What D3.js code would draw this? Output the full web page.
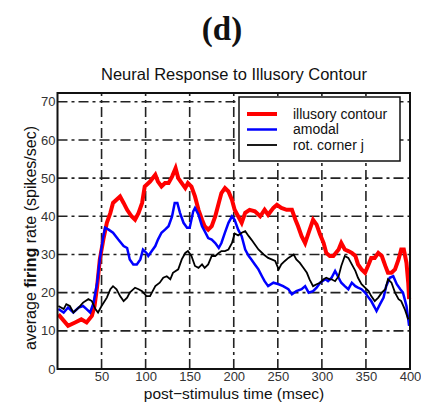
<!DOCTYPE html>
<html>
<head>
<meta charset="utf-8">
<script src="https://cdn.jsdelivr.net/npm/d3@7"></script>
<style>
  body { margin: 0; background: #fff; }
  text { font-family: "Liberation Sans", Arial, sans-serif; fill: #111; }
</style>
</head>
<body>
<svg id="chart"></svg>
<script>
// values: [time (msec), rate (spikes/sec)]
const illusory = [[1,14.3],[12,11.3],[20,12.2],[27,13],[33,12.2],[39,13.9],[42,16.5],[45,21.7],[48,28.7],[52,33.9],[56,38.3],[60,40.9],[63,43.5],[71,45.2],[75,43.5],[79,41.7],[84,40],[88,39.1],[92,40.9],[96,43.5],[99,47.8],[105,49.1],[111,50.9],[114,49.1],[118,47.8],[122,48.7],[126,48.7],[130,50.4],[134,52.6],[137,50],[141,48.7],[145,47.4],[148,48.7],[152,47.8],[156,45.2],[160,41.7],[164,39.1],[167,37.4],[171,36.5],[175,37.4],[179,40],[183,43.5],[186,46.1],[190,47.4],[194,46.5],[198,44.3],[201,41.7],[205,40],[209,38.3],[213,40.9],[218,41.7],[224,41.3],[230,40],[235,41.7],[239,40.4],[245,42.2],[249,43],[254,42.2],[260,41.7],[266,41.7],[270,39.1],[273,37.4],[277,34.8],[281,33],[285,35.7],[290,39.1],[294,37.8],[298,35.2],[302,33],[305,30.4],[309,29.6],[313,29.6],[319,31.3],[322,33],[326,31.3],[330,30.9],[334,30.4],[338,29.6],[341,27.4],[345,26.1],[349,25.2],[353,27.4],[356,29.1],[360,29.1],[364,30.4],[368,29.6],[372,27],[375,25.2],[379,25.2],[383,26.1],[387,28.7],[390,31.3],[393,31.3],[396,27.8],[398,22.6],[399,18.3]];
const amodal = [[1,15.7],[7,14.8],[12,16.1],[18,14.8],[24,16.1],[29,16.5],[33,15.7],[37,14.8],[41,17.4],[45,22.6],[48,28.7],[52,34.8],[54,37],[58,36.5],[63,35.7],[69,33.9],[75,32.2],[79,31.7],[82,28.7],[86,27.4],[90,27.4],[94,28.7],[97,31.3],[101,30.4],[103,29.6],[107,30.9],[111,32.2],[114,33.9],[118,35.7],[122,36.5],[126,37.4],[130,40],[133,43.5],[136,43.5],[139,40.9],[143,38.3],[147,37],[150,37],[154,41.3],[156,42.2],[160,40.4],[164,37.4],[167,36.1],[171,34.3],[175,33.9],[179,33],[183,31.7],[186,33],[190,35.7],[194,38.3],[198,40],[201,39.1],[205,36.5],[209,34.8],[213,31.3],[217,29.6],[220,28.7],[224,27.4],[228,26.1],[232,24.3],[235,23],[239,21.7],[245,22.6],[251,22.2],[256,21.7],[262,20.9],[266,19.6],[271,20.4],[277,20.9],[281,21.7],[285,20],[290,20.4],[294,21.3],[298,22.6],[304,23.5],[307,23],[311,23.9],[315,25.7],[319,23.9],[322,22.6],[326,21.7],[330,20.9],[334,22.6],[338,21.7],[341,21.3],[345,20.9],[349,20],[353,18.7],[356,17.8],[360,16.1],[362,15.2],[366,17],[370,18.7],[373,21.7],[377,23.9],[381,24.3],[385,22.2],[389,20.9],[392,20],[396,16.5],[399,11.3]];
const rotCorner = [[1,16.5],[7,15.7],[10,17],[14,16.5],[18,14.8],[24,16.1],[29,17.4],[35,18.3],[39,17.8],[43,15.7],[46,14.8],[50,16.5],[56,18.7],[60,20.9],[63,21.7],[67,20.9],[71,19.1],[75,17.8],[79,18.7],[82,20],[88,21.3],[92,20.9],[96,20.4],[101,19.1],[105,19.1],[111,21.7],[116,22.6],[120,23.9],[124,24.3],[128,23.5],[131,25.2],[137,26.1],[141,28.7],[145,30.4],[148,30.9],[152,29.6],[156,27],[160,26.5],[164,27.4],[167,26.5],[171,27.4],[175,29.6],[179,29.6],[183,30.4],[186,30.9],[190,30.9],[194,31.3],[198,33],[201,35.5],[205,35],[209,35.7],[213,36.1],[217,34.8],[220,33.9],[224,32.6],[228,31.3],[234,30],[239,29.1],[243,28.7],[247,28.3],[251,26.1],[254,27.4],[258,28.3],[262,29.1],[268,30],[271,28.7],[275,27.8],[279,26.5],[283,25.2],[286,23.5],[290,21.7],[294,22.2],[298,22.6],[302,23.5],[305,23.9],[309,23.5],[311,23.5],[315,23],[319,24.3],[322,27],[326,29.6],[330,29.1],[334,27.4],[338,25.7],[341,23.9],[345,22.2],[349,21.3],[353,20.4],[356,19.1],[360,17.8],[364,18.7],[368,20],[372,20.9],[375,23.5],[379,22.6],[383,20],[387,18.3],[390,17.8],[394,15.7],[398,13]];

const xTicks = [50, 100, 150, 200, 250, 300, 350, 400];
const yTicks = [0, 10, 20, 30, 40, 50, 60, 70];
const seriesNames = ["illusory contour", "amodal", "rot. corner j"];
const seriesColors = ["#ff0000", "#0000ff", "#000000"];
const seriesWidths = [4, 2.5, 1.8];

const W = 421, H = 404;
const margin = {top: 93, right: 11, bottom: 35, left: 57.5};

const svg = d3.select("#chart").attr("width", W).attr("height", H);

const x = d3.scaleLinear().domain([0, 400]).range([margin.left, W - margin.right]);
const y = d3.scaleLinear().domain([0, 72.3]).range([H - margin.bottom, margin.top]);

// panel letter + title
svg.append("text")
    .attr("x", 222).attr("y", 40)
    .attr("text-anchor", "middle")
    .style("font-family", "'Liberation Serif', 'Times New Roman', serif")
    .style("font-size", "33px")
    .style("font-weight", "bold")
    .text("(d)");

svg.append("text")
    .attr("x", 234).attr("y", 80)
    .attr("text-anchor", "middle")
    .style("font-size", "16.5px")
    .text("Neural Response to Illusory Contour");

// dash-dot grid
const grid = svg.append("g")
    .attr("stroke", "#222").attr("stroke-width", 1.6)
    .attr("stroke-dasharray", "10,4,3,4");
grid.selectAll("line.gx")
  .data(xTicks.filter(d => d < 400))
  .enter().append("line")
    .attr("x1", d => x(d)).attr("x2", d => x(d))
    .attr("y1", y.range()[0]).attr("y2", y.range()[1]);
grid.selectAll("line.gy")
  .data(yTicks.filter(d => d > 0))
  .enter().append("line")
    .attr("x1", x.range()[0]).attr("x2", x.range()[1])
    .attr("y1", d => y(d)).attr("y2", d => y(d));

// traces
const line = d3.line().x(d => x(d[0])).y(d => y(d[1]));
[illusory, amodal, rotCorner].forEach((s, i) => {
  svg.append("path")
    .datum(s)
    .attr("fill", "none")
    .attr("stroke", seriesColors[i])
    .attr("stroke-width", seriesWidths[i])
    .attr("stroke-linejoin", "miter")
    .attr("d", line);
});

// frame
svg.append("rect")
    .attr("x", x.range()[0]).attr("y", y.range()[1])
    .attr("width", x.range()[1] - x.range()[0])
    .attr("height", y.range()[0] - y.range()[1])
    .attr("fill", "none").attr("stroke", "#111").attr("stroke-width", 2);

// axes (labels only, frame drawn above)
const xAxis = svg.append("g")
    .attr("transform", "translate(0," + y.range()[0] + ")")
    .call(d3.axisBottom(x).tickValues(xTicks).tickSize(0).tickPadding(3));
const yAxis = svg.append("g")
    .attr("transform", "translate(" + x.range()[0] + ",0)")
    .call(d3.axisLeft(y).tickValues(yTicks).tickSize(0).tickPadding(2));
[xAxis, yAxis].forEach(a => {
  a.select(".domain").remove();
  a.selectAll("text").style("font-size", "13px").style("fill", "#333")
    .style("font-family", "'Liberation Sans', Arial, sans-serif");
});
xAxis.selectAll("text").attr("dy", "0.71em");

// axis labels
svg.append("text")
    .attr("x", 234).attr("y", 399)
    .attr("text-anchor", "middle")
    .style("font-size", "15.5px")
    .text("post\u2212stimulus time (msec)");

const yl = svg.append("text")
    .attr("transform", "translate(36,238) rotate(-90)")
    .attr("text-anchor", "middle")
    .style("font-size", "16px");
yl.append("tspan").text("average ");
yl.append("tspan").style("font-weight", "bold").text("firing");
yl.append("tspan").text(" rate (spikes/sec)");

// legend
const lg = svg.append("g").attr("transform", "translate(239,97)");
lg.append("rect")
    .attr("width", 161).attr("height", 64)
    .attr("fill", "#fff").attr("stroke", "#111").attr("stroke-width", 1.5);
seriesNames.forEach((name, i) => {
  const yy = 17 + i * 15.5;
  lg.append("line")
    .attr("x1", 8).attr("x2", 38).attr("y1", yy).attr("y2", yy)
    .attr("stroke", seriesColors[i]).attr("stroke-width", seriesWidths[i]);
  lg.append("text")
    .attr("x", 54).attr("y", yy + 4.5)
    .style("font-size", "14px")
    .text(name);
});
</script>
</body>
</html>
